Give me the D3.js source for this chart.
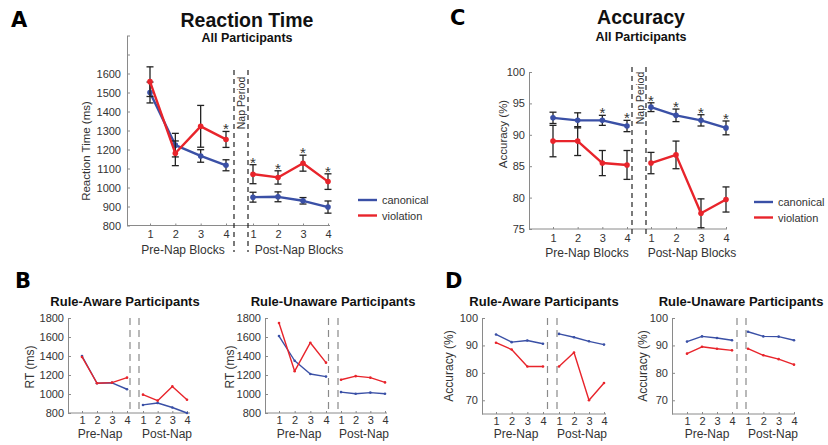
<!DOCTYPE html>
<html><head><meta charset="utf-8">
<script src="https://cdn.jsdelivr.net/npm/d3@7"></script>
<style>body{margin:0;background:#fff} svg{display:block;font-family:"Liberation Sans",Arial,sans-serif}</style>
</head><body><svg id="c" width="828" height="445"></svg>
<script>
// ---------- data ----------
const blocks = [1, 2, 3, 4];
const seriesNames = ["canonical", "violation"];

// Panel A: reaction time, all participants
const rtTicks = [800, 900, 1000, 1100, 1200, 1300, 1400, 1500, 1600, 1700, 1800];
const rtTickLabels = ["800", "900", "1000", "1100", "1200", "1300", "1400", "1500", "1600", "", ""];
const rtCanonPre = [1500, 1223, 1166, 1117];
const rtCanonPost = [949, 951, 930, 897];
const rtViolPre = [1557, 1180, 1322, 1253];
const rtViolPost = [1070, 1053, 1128, 1031];
const rtCanonErrPre = [55, 62, 33, 29];
const rtCanonErrPost = [26, 26, 17, 32];
const rtViolErrPre = [78, 65, 110, 42];
const rtViolErrPost = [50, 35, 42, 41];
const rtStarPre = [0, 0, 0, 1];
const rtStarPost = [1, 1, 1, 1];

// Panel C: accuracy, all participants
const accTicks = [75, 80, 85, 90, 95, 100];
const accCanonPre = [92.7, 92.3, 92.3, 91.4];
const accCanonPost = [94.4, 93.1, 92.3, 91.1];
const accViolPre = [89.0, 89.0, 85.5, 85.2];
const accViolPost = [85.5, 86.8, 77.5, 79.7];
const accCanonErrPre = [0.9, 1.2, 0.8, 0.9];
const accCanonErrPost = [0.7, 1.0, 0.9, 1.1];
const accViolErrPre = [2.5, 2.3, 2.0, 2.3];
const accViolErrPost = [1.7, 2.2, 2.3, 2.0];
const accStarPre = [0, 0, 1, 1];
const accStarPost = [1, 1, 1, 1];

// Panel B: RT by awareness
const smallRtTicks = [800, 1000, 1200, 1400, 1600, 1800];
const awareRtCanonPre = [1400, 1113, 1118, 1050];
const awareRtCanonPost = [885, 905, 858, 800];
const awareRtViolPre = [1390, 1113, 1120, 1172];
const awareRtViolPost = [993, 930, 1080, 940];
const unawareRtCanonPre = [1610, 1350, 1210, 1183];
const unawareRtCanonPost = [1020, 1003, 1015, 1003];
const unawareRtViolPre = [1748, 1240, 1540, 1330];
const unawareRtViolPost = [1150, 1188, 1172, 1122];

// Panel D: accuracy by awareness
const smallAccTicks = [70, 80, 90, 100];
const awareAccCanonPre = [94.0, 91.2, 91.8, 90.6];
const awareAccCanonPost = [94.2, 93.0, 91.5, 90.3];
const awareAccViolPre = [91.0, 88.5, 82.3, 82.3];
const awareAccViolPost = [82.3, 87.4, 70.0, 76.3];
const unawareAccCanonPre = [91.4, 93.3, 92.7, 91.9];
const unawareAccCanonPost = [95.0, 93.3, 93.2, 91.9];
const unawareAccViolPre = [87.0, 89.5, 88.8, 88.2];
const unawareAccViolPost = [88.8, 86.4, 85.0, 83.0];

// ---------- drawing ----------
const svg = d3.select("#c");
const BLUE = "#3a50a6", RED = "#e8242b", AXIS = "#8a8a8a", TXT = "#333";

function drawPanel(o) {
  const g = svg.append("g");
  const y = d3.scaleLinear().domain(o.yDomain).range(o.yRange);
  const xPre = d3.scaleLinear().domain([1, 4]).range(o.preRange);
  const xPost = d3.scaleLinear().domain([1, 4]).range(o.postRange);
  const yBase = o.yRange[0];

  // y axis
  const ya = d3.axisLeft(y).tickValues(o.yTicks)
    .tickFormat((d, i) => o.yLabels ? o.yLabels[i] : d)
    .tickSizeInner(-3).tickSizeOuter(0).tickPadding(o.yPad);
  const yg = g.append("g").attr("transform", `translate(${o.x0},0)`).call(ya);
  yg.select(".domain").attr("stroke", AXIS);
  yg.selectAll(".tick line").attr("stroke", AXIS);
  yg.selectAll(".tick text").attr("fill", TXT).attr("font-size", o.fs)
    .attr("font-family", "Liberation Sans, Arial, sans-serif");

  // x axis line
  g.append("line").attr("x1", o.x0).attr("x2", o.xEnd).attr("y1", yBase).attr("y2", yBase)
    .attr("stroke", AXIS);
  [xPre, xPost].forEach(sc => {
    const xa = d3.axisBottom(sc).tickValues(blocks).tickFormat(d3.format("d"))
      .tickSizeInner(-2).tickSizeOuter(0).tickPadding(o.xPad);
    const xg = g.append("g").attr("transform", `translate(0,${yBase})`).call(xa);
    xg.select(".domain").remove();
    xg.selectAll(".tick line").attr("stroke", AXIS);
    xg.selectAll(".tick text").attr("fill", TXT).attr("font-size", o.fs)
      .attr("font-family", "Liberation Sans, Arial, sans-serif");
  });

  // nap dashed lines
  o.dashes.forEach(dx => {
    g.append("line").attr("x1", dx).attr("x2", dx).attr("y1", o.dashY[0]).attr("y2", o.dashY[1])
      .attr("stroke", o.dashColor).attr("stroke-width", o.dashW).attr("stroke-dasharray", o.dashArr);
  });
  if (o.nap) {
    g.append("text").attr("transform", `translate(${o.nap[0]},${o.nap[1]}) rotate(-90)`)
      .attr("text-anchor", "middle").attr("dominant-baseline", "central")
      .attr("font-size", 10.5).attr("fill", TXT).text("Nap Period");
  }

  // series
  o.series.forEach(s => {
    [[xPre, s.pre, s.preErr, s.preStar], [xPost, s.post, s.postErr, s.postStar]].forEach(([sc, vals, errs, stars]) => {
      const line = d3.line().x((d, i) => sc(blocks[i])).y(d => y(d));
      if (errs) {
        vals.forEach((v, i) => {
          const cx = sc(blocks[i]);
          const y1 = y(v + errs[i]), y2 = y(Math.max(v - errs[i], o.yDomain[0]));
          g.append("line").attr("x1", cx).attr("x2", cx).attr("y1", y1).attr("y2", y2)
            .attr("stroke", "#222").attr("stroke-width", 1.3);
          [y1, v - errs[i] >= o.yDomain[0] ? y2 : null].forEach(yy => {
            if (yy === null) return;
            g.append("line").attr("x1", cx - 3.5).attr("x2", cx + 3.5).attr("y1", yy).attr("y2", yy)
              .attr("stroke", "#222").attr("stroke-width", 1.3);
          });
        });
      }
      g.append("path").datum(vals).attr("d", line).attr("fill", "none")
        .attr("stroke", s.color).attr("stroke-width", o.lw).attr("stroke-linejoin", "round");
      g.selectAll(null).data(vals).enter().append("circle")
        .attr("cx", (d, i) => sc(blocks[i])).attr("cy", d => y(d)).attr("r", o.mr).attr("fill", s.color);
      if (stars) {
        vals.forEach((v, i) => {
          if (!stars[i]) return;
          g.append("text").attr("x", sc(blocks[i])).attr("y", y(v + errs[i]) + 3)
            .attr("text-anchor", "middle").attr("font-size", 15).attr("fill", TXT).text("*");
        });
      }
    });
  });

  // labels
  const lab = (t, x, yy, fs, weight, fill, anchor) => g.append("text").attr("x", x).attr("y", yy)
    .attr("font-size", fs).attr("font-weight", weight || "normal").attr("fill", fill || TXT)
    .attr("text-anchor", anchor || "middle").text(t);
  lab(o.preLabel, o.preLabelX, o.xLabY, 12);
  lab(o.postLabel, o.postLabelX, o.xLabY, 12);
  g.append("text").attr("transform", `translate(${o.yLab[0]},${o.yLab[1]}) rotate(-90)`)
    .attr("text-anchor", "middle").attr("dominant-baseline", "central")
    .attr("font-size", o.yLabFs).attr("fill", TXT).text(o.yLabel);
  o.titles.forEach(t => lab(t[0], t[1], t[2], t[3], "bold", "#111"));

  if (o.legend) {
    const [lx, ly] = o.legend;
    [BLUE, RED].forEach((c, i) => {
      g.append("line").attr("x1", lx).attr("x2", lx + 19).attr("y1", ly + i * 15.5).attr("y2", ly + i * 15.5)
        .attr("stroke", c).attr("stroke-width", 2.4);
      lab(seriesNames[i], lx + 24, ly + i * 15.5 + 4, 11, "normal", TXT, "start");
    });
  }
}

const bigCommon = { fs: 11, lw: 2.4, mr: 2.8, dashColor: "#222", dashW: 1.2, dashArr: "5,4",
  preLabel: "Pre-Nap Blocks", postLabel: "Post-Nap Blocks", yLabFs: 11.5 };
const smallCommon = { fs: 11, lw: 1.4, mr: 1.3, dashColor: "#8a8a8a", dashW: 1.2, dashArr: "7,5",
  preLabel: "Pre-Nap", postLabel: "Post-Nap", yLabFs: 12, xPad: 3, yPad: 4, xLabY: 438 };

// Panel A
drawPanel(Object.assign({}, bigCommon, {
  x0: 127, xEnd: 330, yDomain: [800, 1800], yRange: [225.5, 35.5], yTicks: rtTicks, yLabels: rtTickLabels,
  yPad: 6, xPad: 5, preRange: [150, 226], postRange: [253, 328], dashes: [234, 248], dashY: [70, 252],
  nap: [241, 103], preLabelX: 183, postLabelX: 299, xLabY: 254, yLab: [86, 151], yLabel: "Reaction Time (ms)",
  titles: [["Reaction Time", 247, 27, 19.5], ["All Participants", 247, 42, 12.5]],
  legend: [358, 200],
  series: [
    { color: BLUE, pre: rtCanonPre, post: rtCanonPost, preErr: rtCanonErrPre, postErr: rtCanonErrPost },
    { color: RED, pre: rtViolPre, post: rtViolPost, preErr: rtViolErrPre, postErr: rtViolErrPost, preStar: rtStarPre, postStar: rtStarPost }
  ]
}));

// Panel C
drawPanel(Object.assign({}, bigCommon, {
  x0: 529, xEnd: 727, yDomain: [75, 100], yRange: [229, 72], yTicks: accTicks,
  yPad: 4, xPad: 5, preRange: [553, 627], postRange: [651, 726], dashes: [632, 646], dashY: [67, 238],
  nap: [640, 98], preLabelX: 587, postLabelX: 692, xLabY: 257, yLab: [503, 134], yLabel: "Accuracy (%)",
  titles: [["Accuracy", 641, 24, 19.5], ["All Participants", 641, 41, 12.5]],
  legend: [754, 202],
  series: [
    { color: BLUE, pre: accCanonPre, post: accCanonPost, preErr: accCanonErrPre, postErr: accCanonErrPost, preStar: accStarPre, postStar: accStarPost },
    { color: RED, pre: accViolPre, post: accViolPost, preErr: accViolErrPre, postErr: accViolErrPost }
  ]
}));

// Panel B left / right
drawPanel(Object.assign({}, smallCommon, {
  x0: 68, xEnd: 190, yDomain: [800, 1800], yRange: [413, 318], yTicks: smallRtTicks,
  preRange: [82, 127], postRange: [143, 187], dashes: [130, 139], dashY: [318, 413],
  preLabelX: 100, postLabelX: 167, yLab: [30, 367], yLabel: "RT (ms)",
  titles: [["Rule-Aware Participants", 125, 306, 13]],
  series: [
    { color: BLUE, pre: awareRtCanonPre, post: awareRtCanonPost },
    { color: RED, pre: awareRtViolPre, post: awareRtViolPost }
  ]
}));
drawPanel(Object.assign({}, smallCommon, {
  x0: 265, xEnd: 387, yDomain: [800, 1800], yRange: [413, 318], yTicks: smallRtTicks,
  preRange: [279, 326], postRange: [341, 385], dashes: [328.5, 338], dashY: [318, 413],
  preLabelX: 299, postLabelX: 364, yLab: [230, 367], yLabel: "RT (ms)",
  titles: [["Rule-Unaware Participants", 333, 306, 13]],
  series: [
    { color: BLUE, pre: unawareRtCanonPre, post: unawareRtCanonPost },
    { color: RED, pre: unawareRtViolPre, post: unawareRtViolPost }
  ]
}));

// Panel D left / right
drawPanel(Object.assign({}, smallCommon, {
  x0: 482, xEnd: 606, yDomain: [65, 100], yRange: [414, 318], yTicks: smallAccTicks,
  preRange: [496, 543], postRange: [559, 604], dashes: [547.5, 557], dashY: [318, 414],
  preLabelX: 516, postLabelX: 582, yLab: [449, 366], yLabel: "Accuracy (%)",
  titles: [["Rule-Aware Participants", 544, 306, 13]],
  series: [
    { color: BLUE, pre: awareAccCanonPre, post: awareAccCanonPost },
    { color: RED, pre: awareAccViolPre, post: awareAccViolPost }
  ]
}));
drawPanel(Object.assign({}, smallCommon, {
  x0: 672, xEnd: 795, yDomain: [65, 100], yRange: [414, 318], yTicks: smallAccTicks,
  preRange: [687, 732], postRange: [748, 794], dashes: [737, 746], dashY: [318, 414],
  preLabelX: 707, postLabelX: 773, yLab: [643, 366], yLabel: "Accuracy (%)",
  titles: [["Rule-Unaware Participants", 741, 306, 13]],
  series: [
    { color: BLUE, pre: unawareAccCanonPre, post: unawareAccCanonPost },
    { color: RED, pre: unawareAccViolPre, post: unawareAccViolPost }
  ]
}));

// Panel letters
[["A", 11, 27], ["C", 450, 25], ["B", 15, 288], ["D", 445, 288]].forEach(([t, x, yy]) => {
  svg.append("text").attr("x", x).attr("y", yy).attr("font-size", 21).attr("font-weight", "bold")
    .attr("font-family", "DejaVu Sans, sans-serif").attr("fill", "#000").text(t);
});
</script></body></html>
